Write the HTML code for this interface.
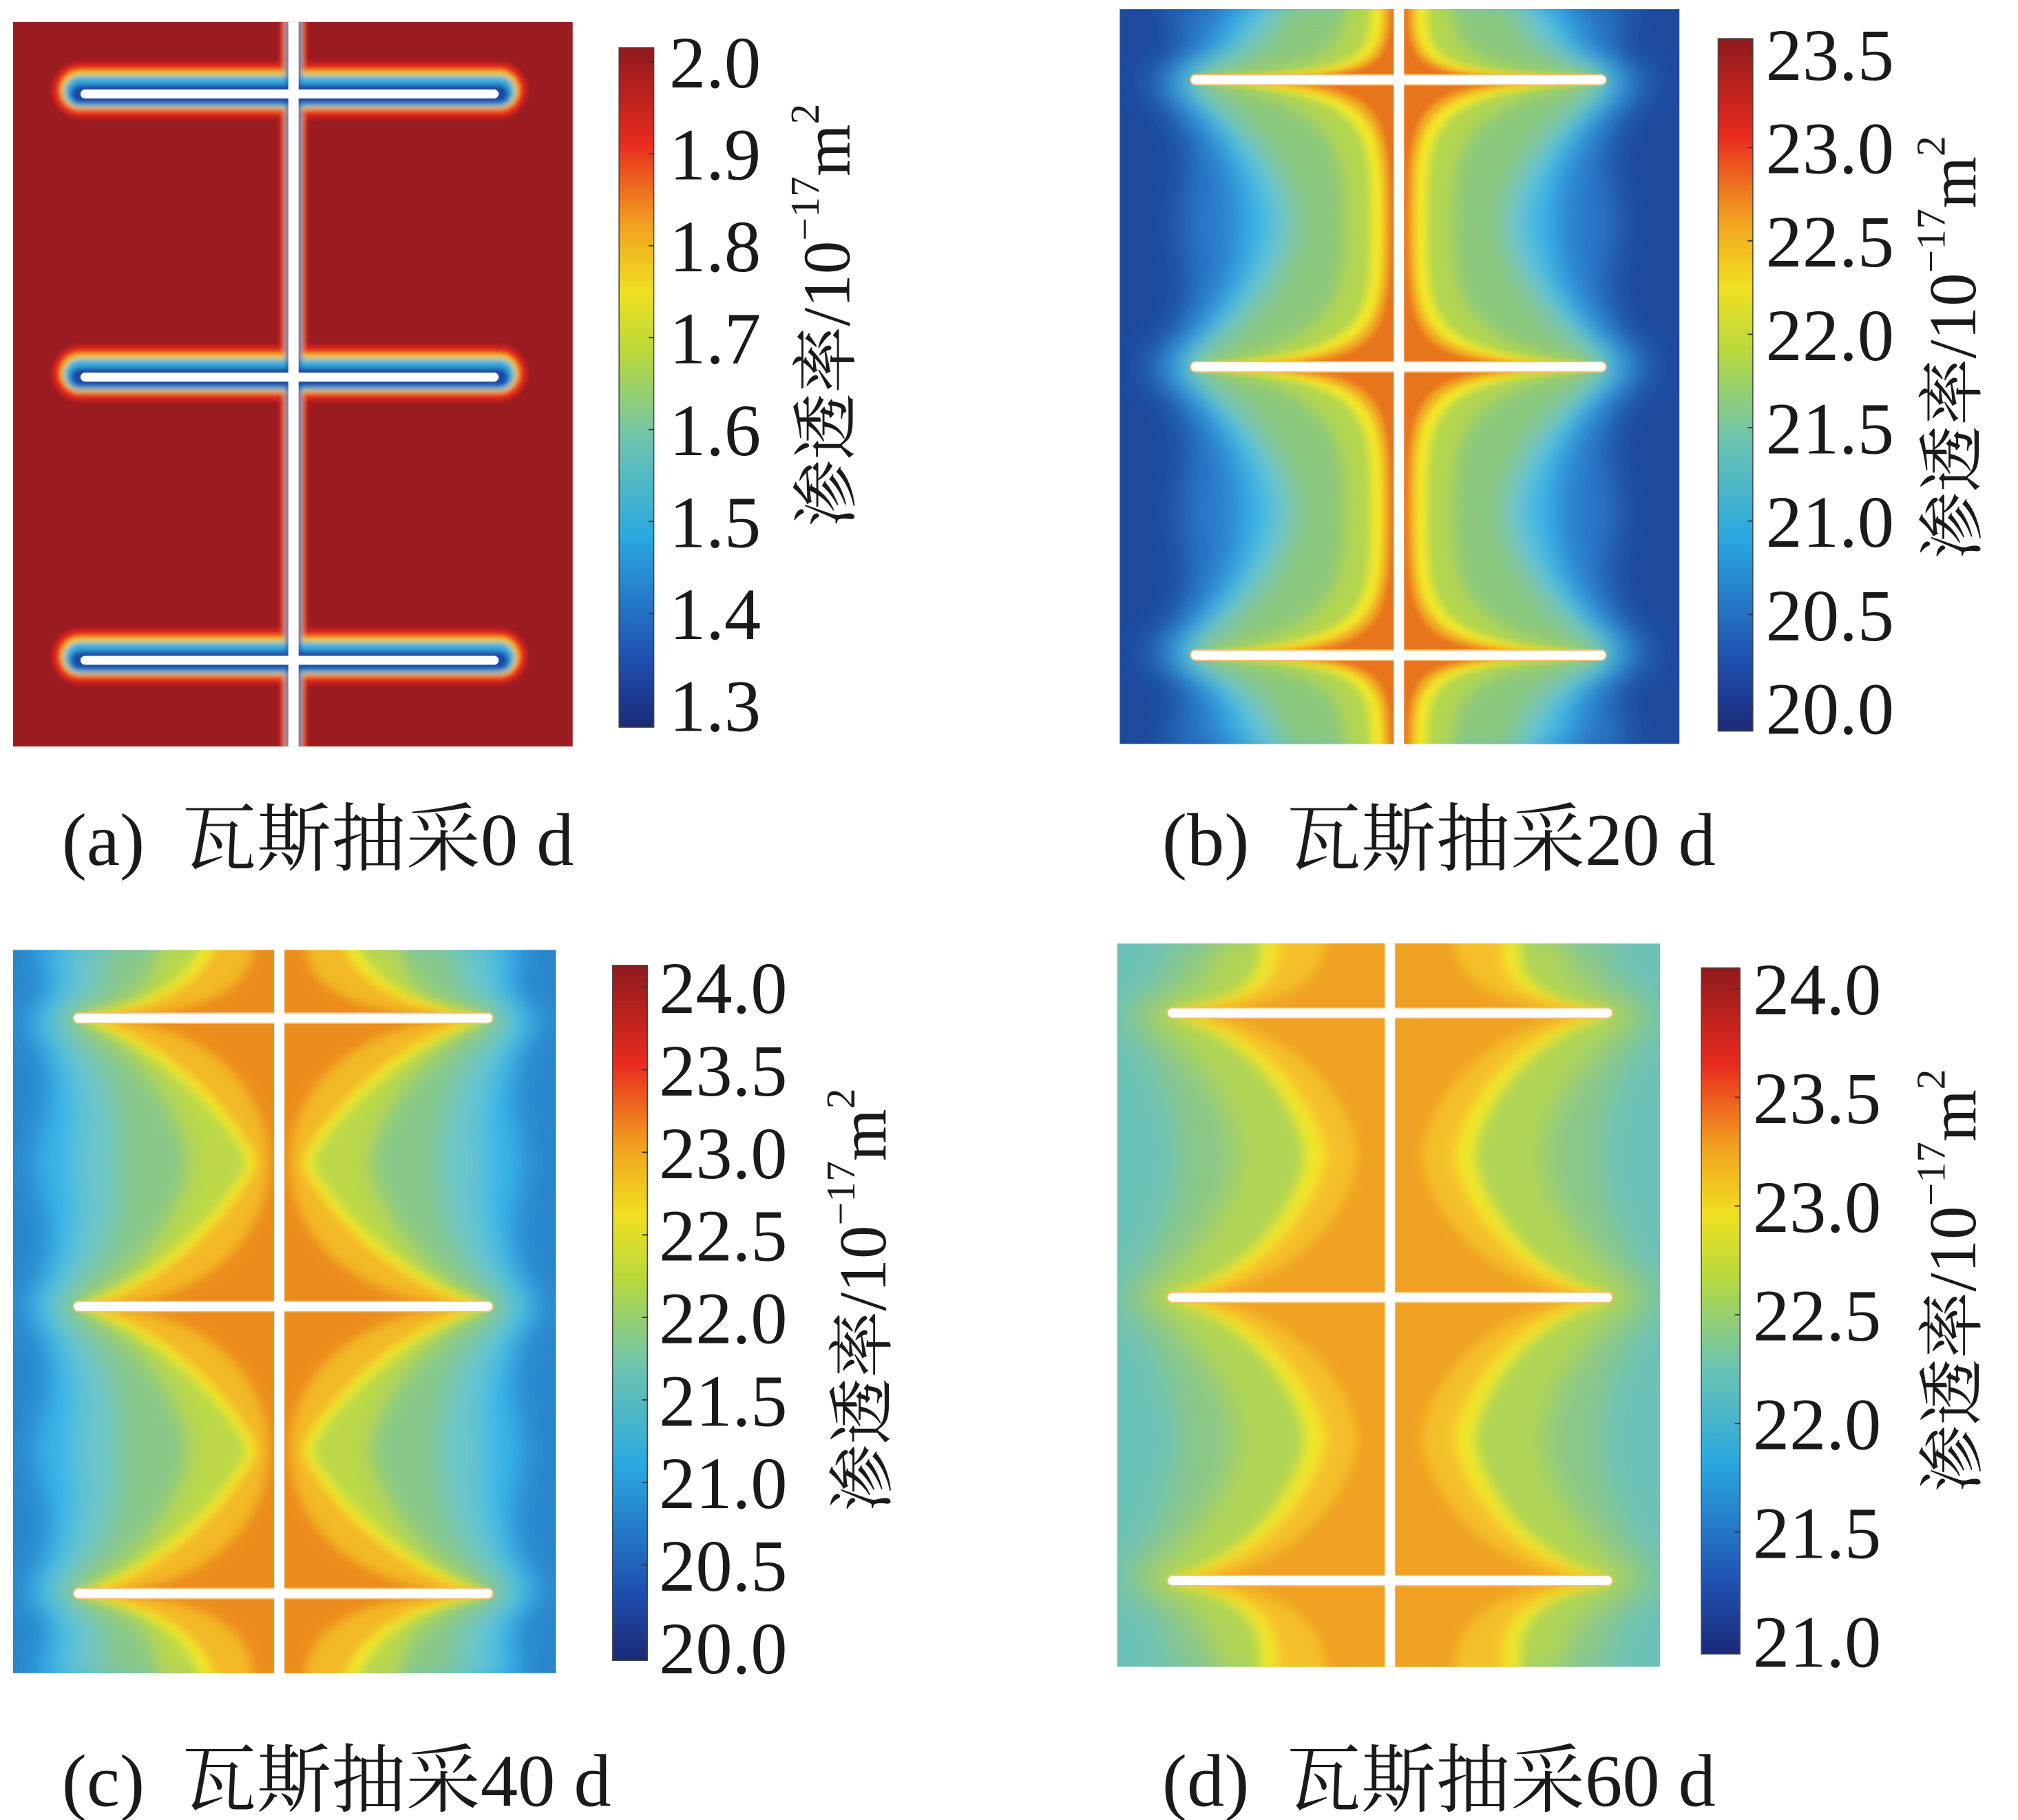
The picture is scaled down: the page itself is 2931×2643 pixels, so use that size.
<!DOCTYPE html>
<html><head><meta charset="utf-8"><style>
html,body{margin:0;padding:0;background:#fff}
svg{display:block}
text{fill:#1a1a1a;white-space:pre}
</style></head><body>
<svg id="fig" xmlns="http://www.w3.org/2000/svg" width="2931" height="2643" viewBox="0 0 1568 1414">
<defs>
<filter id="blurS" x="-20%" y="-20%" width="140%" height="140%"><feGaussianBlur stdDeviation="2"/></filter>
<linearGradient id="jet" x1="0" y1="1" x2="0" y2="0">
<stop offset="0" stop-color="#1b2a78"/><stop offset="0.1" stop-color="#1f4fb0"/>
<stop offset="0.28" stop-color="#2aa8e0"/><stop offset="0.42" stop-color="#6cc4b0"/>
<stop offset="0.55" stop-color="#b8d83c"/><stop offset="0.64" stop-color="#f0e020"/>
<stop offset="0.74" stop-color="#f2a020"/><stop offset="0.86" stop-color="#e82a1e"/>
<stop offset="1" stop-color="#8e1a1e"/></linearGradient>
</defs>
</svg>
<script>
const ticksA=["1.3","1.4","1.5","1.6","1.7","1.8","1.9","2.0"];
const ticksB=["20.0","20.5","21.0","21.5","22.0","22.5","23.0","23.5"];
const ticksC=["20.0","20.5","21.0","21.5","22.0","22.5","23.0","23.5","24.0"];
const ticksD=["21.0","21.5","22.0","22.5","23.0","23.5","24.0"];
const captions=["(a)  瓦斯抽采0 d","(b)  瓦斯抽采20 d","(c)  瓦斯抽采40 d","(d)  瓦斯抽采60 d"];
const FONT='"Liberation Serif","Times New Roman","Noto Serif CJK SC",serif';
const svg=document.getElementById('fig');
const NS="http://www.w3.org/2000/svg";
const defs=svg.querySelector('defs');
function mk(tag,attrs,parent){const e=document.createElementNS(NS,tag);for(const k in attrs)e.setAttribute(k,attrs[k]);(parent||svg).appendChild(e);return e;}
const filt={};
function blurId(sd){if(!filt[sd]){const f=mk('filter',{id:'bl'+sd,x:'-20%',y:'-20%',width:'140%',height:'140%'},defs);mk('feGaussianBlur',{stdDeviation:sd},f);filt[sd]=1;}return 'url(#bl'+sd+')';}

const panels=[
 {id:'a',box:[10,17,445,580],wells:[73,293,513],wx:[62,388],cx:228,cb:[481,37,508,565],ticks:ticksA,tTop:48,tBot:548,tx:520,lx:660,ly:245,cap:[48,652],type:'halo'},
 {id:'b',box:[870,7,1305,578],wells:[62,285,509],wx:[925,1248],cx:1087,cb:[1335,30,1362,568],ticks:ticksB,tTop:42,tBot:550,tx:1372,lx:1535,ly:270,cap:[903,652],type:'hg',
  bg:'#1e4a9c',layers:[
   ['#2a78c8',40,170,180,.7,.2,.4,12],['#38b4e8',20,125,138,.7,.2,.4,12],['#70c6d0',8,100,112,.7,.2,.4,10],
   ['#8cc87c',0,80,90,.6,.2,.4,10],['#b4d650',-5,42,42,.3,.08,.25,6],['#f2e82a',-8,22,22,.15,.05,.15,3],
   ['#f0a424',-15,12,12,.12,.03,.1,3],['#e8741c',-40,7,7,.1,.02,.08,2]]},
 {id:'c',box:[10,738,432,1300],wells:[791,1015,1238],wx:[57,383],cx:217,cb:[476,750,503,1290],ticks:ticksC,tTop:767,tBot:1280,tx:512,lx:688,ly:1010,cap:[48,1383],type:'hg',
  bg:'#2a86cc',layers:[
   ['#38b6ea',40,190,190,.8,.2,.4,10],['#6cc6cc',25,160,170,.8,.2,.4,10],['#88c888',10,125,140,.7,.2,.4,10],
   ['#bcd848',0,70,95,.55,.15,.45,8],['#f2e82a',-4,26,62,.5,.12,.45,4],['#f2b828',-10,18,50,.45,.1,.45,4],
   ['#ec8c1c',-30,8,20,.3,.05,.3,4]]},
 {id:'d',box:[868,733,1290,1295],wells:[787,1008,1228],wx:[907,1253],cx:1080,cb:[1322,752,1352,1285],ticks:ticksD,tTop:768,tBot:1275,tx:1362,lx:1535,ly:995,cap:[903,1383],type:'hg',
  bg:'#6cc2b8',layers:[
   ['#8cc888',40,165,170,.8,.2,.4,12],['#b0d454',20,120,135,.7,.2,.4,10],['#f2e82a',0,66,102,.5,.12,.45,5],
   ['#f4c02a',-8,50,88,.45,.1,.45,5],['#f0a020',-25,25,50,.35,.08,.4,5]]}
];

function hgPath(p,e,hm,ht,a,t1,t2){
  const [x0,y0,x1,y1]=p.box,cx=p.cx,w=p.wells;
  const R=p.wx[1]+e-cx, L=cx-p.wx[0]+e;
  function side(S,sg){
    const X=v=>cx+sg*v;
    const dT=(w[0]-y0)*2, dB=(y1-w[2])*2;
    let c=[];
    c.push([X(ht),y0-6]);
    c.push(`C${X(ht)},${w[0]-t2*dT} ${X(a*S)},${w[0]-t1*dT} ${X(S)},${w[0]}`);
    for(let i=1;i<w.length;i++){const dy=w[i]-w[i-1],m=(w[i]+w[i-1])/2;
      c.push(`C${X(a*S)},${w[i-1]+t1*dy} ${X(hm)},${w[i-1]+t2*dy} ${X(hm)},${m}`);
      c.push(`C${X(hm)},${w[i]-t2*dy} ${X(a*S)},${w[i]-t1*dy} ${X(S)},${w[i]}`);}
    c.push(`C${X(a*S)},${w[2]+t1*dB} ${X(ht)},${w[2]+t2*dB} ${X(ht)},${y1+6}`);
    return c;
  }
  const r=side(R,1), l=side(L,-1);
  const d1=`M${r[0][0]},${r[0][1]} `+r.slice(1).join(' ')+` L${cx},${y1+6} L${cx},${y0-6} Z`;
  const d2=`M${l[0][0]},${l[0][1]} `+l.slice(1).join(' ')+` L${cx},${y1+6} L${cx},${y0-6} Z`;
  return [d1,d2];
}

panels.forEach(p=>{
  const g=mk('g',{});
  
  
  const [x0,y0,x1,y1]=p.box;
  const cp=mk('clipPath',{id:'clip'+p.id},g);mk('rect',{x:x0,y:y0,width:x1-x0,height:y1-y0},cp);
  const hm=mk('g',{'clip-path':`url(#clip${p.id})`},g);
  
  
  if(p.type==='halo'){
    mk('rect',{x:x0,y:y0,width:x1-x0,height:y1-y0,fill:'#9a1c21'},hm);
    const hg=mk('g',{filter:'url(#blurS)'},hm);
    [['#e8261e',42,20,-3],['#f2d020',30,14,-3],['#38b0e0',24,12,-2],['#1e4aa8',15,10,0]].forEach(([c,hw,vw,off])=>{
      p.wells.forEach(y=>mk('line',{x1:p.wx[0],y1:y+off,x2:p.wx[1],y2:y+off,stroke:c,'stroke-width':hw,'stroke-linecap':'round'},hg));
      mk('line',{x1:p.cx,y1:y0-10,x2:p.cx,y2:y1+10,stroke:c,'stroke-width':vw},hg);
    });
  } else {
    mk('rect',{x:x0,y:y0,width:x1-x0,height:y1-y0,fill:p.bg},hm);
    p.layers.forEach(([c,e,h,ht,a,t1,t2,sd])=>{
      const lg=mk('g',{filter:blurId(sd)},hm);
      hgPath(p,e,h,ht,a,t1,t2).forEach(d=>mk('path',{d:d,fill:c},lg));
    });
  }
  p.wells.forEach((y,i)=>{
    const w=mk('rect',{x:p.wx[0],y:y-4,width:p.wx[1]-p.wx[0],height:8,rx:4,fill:'#fff',stroke:p.type==='halo'?'#1e4aa8':'#f4c070','stroke-width':1},hm);
    
    
  });
  const v=mk('rect',{x:p.cx-4,y:y0-2,width:8,height:y1-y0+4,fill:'#fff'},hm);
  
  
  const [cx0,cy0,cx1,cy1]=p.cb;
  const cb=mk('rect',{x:cx0,y:cy0,width:cx1-cx0,height:cy1-cy0,fill:'url(#jet)',stroke:'#444','stroke-width':0.8},g);
  
  
  const n=p.ticks.length;
  p.ticks.forEach((t,i)=>{
    const y=p.tBot-(p.tBot-p.tTop)*i/(n-1);
    const tk=mk('line',{x1:cx1-4,y1:y,x2:cx1,y2:y,stroke:'#333','stroke-width':1},g);
    
    
    const tx=mk('text',{x:p.tx,y:y+20,'font-size':57,'font-family':FONT},g);tx.textContent=t;
    
    
  });
  const lab=mk('text',{x:0,y:0,'font-size':52,'font-family':FONT,'text-anchor':'middle',transform:`translate(${p.lx},${p.ly}) rotate(-90)`},g);
  lab.innerHTML='渗透率/10<tspan dy="-24" font-size="32">−17</tspan><tspan dy="24">m</tspan><tspan dy="-24" font-size="32">2</tspan>';
  
  
  const cap=mk('text',{x:p.cap[0],y:p.cap[1]+20,'font-size':58,'font-family':FONT},g);
  cap.textContent=captions['abcd'.indexOf(p.id)];
  
  
});
</script>
</body></html>
